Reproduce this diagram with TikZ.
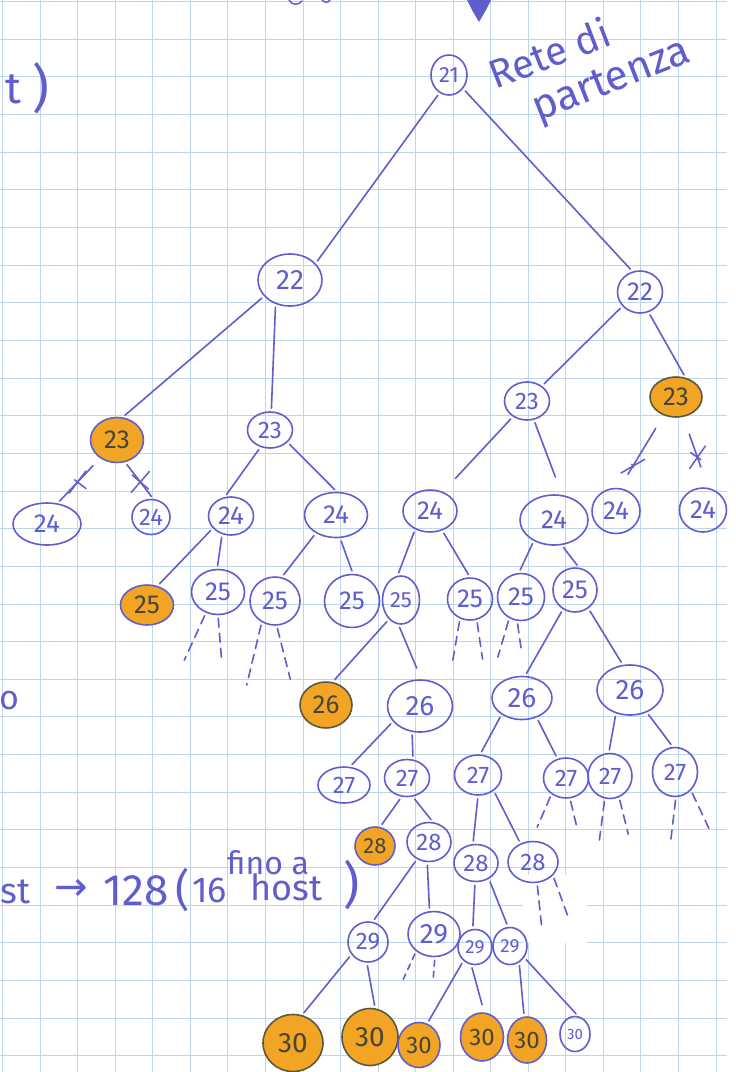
\documentclass[tikz,border=0pt]{standalone}
\usepackage{fontspec}
\setmainfont{Fira Sans}
\newfontfamily\symfont{DejaVu Sans}
\usetikzlibrary{shapes.geometric,shapes.misc}

\definecolor{ink}{RGB}{96,94,204}
\definecolor{gridblue}{RGB}{190,213,235}
\definecolor{marker}{RGB}{242,164,36}
\definecolor{olive}{RGB}{92,88,62}
\definecolor{pencil}{RGB}{72,70,56}

\newcommand{\fs}[1]{\fontsize{#1}{#1}\selectfont}

\tikzset{
  gridline/.style={draw=gridblue, line width=0.8pt},
  net/.style={ellipse, draw=ink, line width=1.6pt, inner sep=0pt, text=ink, font=\fs{26}},
  free/.style={net},
  used/.style={net, fill=marker, text=pencil},
  usedd/.style={used, draw=olive},
  link/.style={draw=ink, line width=1.6pt, line cap=round, shorten <=3pt, shorten >=3pt},
  stub/.style={link, dash pattern=on 9pt off 6pt},
  cut/.style={cross out, draw=ink, line width=1.5pt, minimum size=18pt, inner sep=0pt},
  hand/.style={text=ink, inner sep=0pt},
}

\begin{document}
\begin{tikzpicture}[x=1pt,y=-1pt]
\useasboundingbox (0,0) rectangle (736,1072);
\fill[white] (0,0) rectangle (736,1072);

% squared paper
\foreach \k in {0,...,19} \draw[gridline] ({2.5+37.55*\k},0) -- ({2.5+37.55*\k},1072);
\foreach \k in {0,...,28} \draw[gridline] (0,{1.5+37.65*\k}) -- (727,{1.5+37.65*\k});
\fill[white] (523,875) rectangle (587,943);

% scraps of writing along the edges
\draw[ink, line width=1.5pt, line cap=round] (289,0) .. controls (292,6) and (299,5) .. (302,1);
\draw[ink, line width=1.5pt, line cap=round] (322,0) .. controls (325,3) and (328,3) .. (330,0);
\fill[ink] (467,0) -- (491,0) -- (486,10) -- (479,22) -- (472,10) -- cycle;
\node[hand, font=\fs{44}] (tl) at (13,89) {t};
\node[hand, font=\fs{52}] (tp) at (41,88) {)};
\node[hand, font=\fs{34}] (ol) at (9,701) {o};
\node[hand, anchor=base west, font=\fs{36}] (w1) at (0,903) {st};
\node[hand, font=\symfont\fs{40}] (w2) at (71,890) {→};
\node[hand, anchor=base west, font=\fs{44}] (w3) at (103,905) {128};
\node[hand, font=\fs{44}] (w4) at (183,890) {(};
\node[hand, anchor=base west, font=\fs{36}] (w5) at (192,902) {16};
\node[hand, anchor=base west, font=\fs{36}] (w6) at (250,900) {host};
\node[hand, font=\fs{50}] (w7) at (352,885) {)};
\node[hand, anchor=base west, font=\fs{32}] (w8) at (227,874) {fino a};

% caption of the root
\node[hand, anchor=base west, rotate=21, font=\fs{40}] (capA) at (495,90) {Rete di};
\node[hand, anchor=base west, rotate=21.5, font=\fs{42}] (capB) at (538,122) {partenza};

% ---- tree of subnets ----
\node[free, minimum width=36pt, minimum height=40pt, font=\fs{22}] (n21) at (449,75) {21};

\node[free, minimum width=64pt, minimum height=52pt, font=\fs{28}] (L22) at (290,280) {22};
\node[free, minimum width=45pt, minimum height=42pt] (R22) at (640,292) {22};

\node[used, minimum width=53pt, minimum height=45pt] (O23) at (117,440) {23};
\node[free, minimum width=45pt, minimum height=36pt, font=\fs{24}] (M23) at (270,430) {23};
\node[free, minimum width=45pt, minimum height=38pt, font=\fs{24}] (R23) at (527,401) {23};
\node[usedd, minimum width=52pt, minimum height=40pt] (O13) at (676,397) {23};

\node[free, minimum width=68pt, minimum height=42pt] (a24) at (47,524) {24};
\node[free, minimum width=38pt, minimum height=35pt, font=\fs{24}] (b24) at (151,517) {24};
\node[free, minimum width=45pt, minimum height=38pt] (c24) at (231,516) {24};
\node[free, minimum width=63pt, minimum height=45pt] (d24) at (336,515) {24};
\node[free, minimum width=54pt, minimum height=42pt] (e24) at (430,511) {24};
\node[free, minimum width=68pt, minimum height=50pt] (f24) at (554,520) {24};
\node[free, minimum width=48pt, minimum height=45pt] (g24) at (616,511) {24};
\node[free, minimum width=47pt, minimum height=44pt] (h24) at (703,510) {24};

\node[used, minimum width=53pt, minimum height=40pt] (o25) at (147,605) {25};
\node[free, minimum width=53pt, minimum height=45pt] (a25) at (218,592) {25};
\node[free, minimum width=50pt, minimum height=48pt] (b25) at (275,601) {25};
\node[free, minimum width=55pt, minimum height=53pt] (c25) at (352,601) {25};
\node[free, minimum width=37pt, minimum height=48pt, font=\fs{22}] (d25) at (401,600) {25};
\node[free, minimum width=45pt, minimum height=42pt] (e25) at (470,599) {25};
\node[free, minimum width=47pt, minimum height=47pt] (f25) at (521,597) {25};
\node[free, minimum width=44pt, minimum height=44pt] (g25) at (575,590) {25};

\node[usedd, minimum width=52pt, minimum height=46pt] (o26) at (326,705) {26};
\node[free, minimum width=65pt, minimum height=52pt, font=\fs{28}] (a26) at (420,706) {26};
\node[free, minimum width=60pt, minimum height=43pt, font=\fs{28}] (b26) at (522,698) {26};
\node[free, minimum width=66pt, minimum height=50pt, font=\fs{28}] (c26) at (630,690) {26};

\node[free, minimum width=52pt, minimum height=36pt, font=\fs{24}] (a27) at (344,785) {27};
\node[free, minimum width=45pt, minimum height=37pt, font=\fs{24}] (b27) at (407,778) {27};
\node[free, minimum width=47pt, minimum height=40pt, font=\fs{24}] (c27) at (478,775) {27};
\node[free, minimum width=45pt, minimum height=40pt, font=\fs{24}] (d27) at (566,778) {27};
\node[free, minimum width=44pt, minimum height=45pt, font=\fs{24}] (e27) at (610,776) {27};
\node[free, minimum width=45pt, minimum height=49pt, font=\fs{24}] (f27) at (675,772) {27};

\node[used, minimum width=40pt, minimum height=38pt, font=\fs{22}] (o28) at (375,846) {28};
\node[free, minimum width=44pt, minimum height=39pt, font=\fs{24}] (a28) at (429,842) {28};
\node[free, minimum width=44pt, minimum height=37pt, font=\fs{24}] (b28) at (476,863) {28};
\node[free, minimum width=50pt, minimum height=41pt, font=\fs{24}] (c28) at (533,862) {28};

\node[free, minimum width=40pt, minimum height=40pt, font=\fs{24}] (a29) at (368,942) {29};
\node[free, minimum width=52pt, minimum height=45pt, font=\fs{28}] (b29) at (434,934) {29};
\node[free, minimum width=34pt, minimum height=35pt, font=\fs{19}] (c29) at (475,947) {29};
\node[free, minimum width=34pt, minimum height=37pt, font=\fs{19}] (d29) at (510,946) {29};

\node[usedd, minimum width=60pt, minimum height=57pt, font=\fs{28}] (t30a) at (293,1043) {30};
\node[usedd, minimum width=56pt, minimum height=57pt, font=\fs{28}] (t30b) at (370,1037) {30};
\node[used, minimum width=42pt, minimum height=45pt, font=\fs{24}] (t30c) at (419,1045) {30};
\node[used, minimum width=43pt, minimum height=48pt, font=\fs{24}] (t30d) at (482,1037) {30};
\node[used, minimum width=39pt, minimum height=46pt, font=\fs{24}] (t30e) at (527,1040) {30};
\node[free, minimum width=30pt, minimum height=35pt, font=\fs{15}] (t30f) at (575,1034) {30};

% ---- branches ----
\draw[link] (n21.-118) -- (L22.33);
\draw[link] (n21.-44) -- (R22.110);

\draw[link] (L22.-148) -- (O23.76);
\draw[link] (L22.-121) -- (M23.86);
\draw[link] (R22.-141) -- (R23.45);
\draw[link] (R22.-67) -- (O13.64);

% branches that are not taken
\draw[link, shorten <=10pt] (O23.-133) -- node[cut, pos=0.53, rotate=8] (x1) {} (a24.63);
\draw[link] (O23.-70) -- node[cut, pos=0.54, rotate=4] (x2) {} (b24.83);
\draw[link, shorten <=15pt, shorten >=16pt] (O13.-124) -- node[cut, pos=0.7, rotate=-15] (x3) {} (g24.81);
\draw[link, shorten <=18pt, shorten >=22pt] (O13.-70) -- node[cut, pos=0.57, rotate=10] (x4) {} (h24.77);

\draw[link] (M23.-119) -- (c24.108);
\draw[link] (M23.-35) -- (d24.88);
\draw[link, shorten >=18pt] (R23.-132) -- (e24.56);
\draw[link, shorten >=19pt] (R23.-70) -- (f24.72);

\draw[link] (c24.-146) -- (o25.61);
\draw[link] (c24.-116) -- (a25.92);
\draw[link] (d24.-138) -- (b25.74);
\draw[link] (d24.-80) -- (c25.88);
\draw[link] (e24.-129) -- (d25.98);
\draw[link] (e24.-58) -- (e25.90);
\draw[link] (f24.-134) -- (f25.95);
\draw[link] (f24.-73) -- (g25.80);

\draw[link] (d25.-122) -- (o26.74);
\draw[link, shorten >=12pt] (d25.-96) -- (a26.87);
\draw[link] (g25.-122) -- (b26.82);
\draw[link] (g25.-54) -- (c26.106);

\draw[link] (a26.-150) -- (a27.72);
\draw[link] (a26.-107) -- (b27.72);
\draw[link] (b26.-141) -- (c27.84);
\draw[link] (b26.-53) -- (d27.114);
\draw[link] (c26.-121) -- (e27.93);
\draw[link] (c26.-53) -- (f27.95);

\draw[link] (b27.-106) -- (o28.75);
\draw[link] (b27.-73) -- (a28.79);
\draw[link] (c27.-90) -- (b28.99);
\draw[link] (c27.-45) -- (c28.124);

\draw[link] (a28.-125) -- (a29.77);
\draw[link] (a28.-95) -- (b29.101);
\draw[link] (b28.-93) -- (c29.97);
\draw[link] (b28.-51) -- (d29.96);

\draw[link] (a29.-143) -- (t30a.72);
\draw[link] (a29.-93) -- (t30b.80);
\draw[link] (c29.-130) -- (t30c.69);
\draw[link, shorten >=8pt] (c29.-102) -- (t30d.85);
\draw[link] (d29.-61) -- (t30e.97);
\draw[link] (d29.-39) -- (t30f.80);

% ---- subtrees left out ----
\coordinate (a25l) at (183,663); \coordinate (a25r) at (222,665);
\coordinate (b25l) at (246,688); \coordinate (b25r) at (291,682);
\coordinate (e25l) at (452,665); \coordinate (e25r) at (483,662);
\coordinate (f25l) at (497,660); \coordinate (f25r) at (522,655);
\coordinate (d27l) at (536,830); \coordinate (d27r) at (578,832);
\coordinate (e27l) at (599,843); \coordinate (e27r) at (629,837);
\coordinate (f27l) at (670,847); \coordinate (f27r) at (712,835);
\coordinate (c28l) at (542,930); \coordinate (c28r) at (570,922);
\coordinate (b29l) at (402,982); \coordinate (b29r) at (433,982);

\draw[stub] (a25.-120) -- (a25l);  \draw[stub] (a25.-90) -- (a25r);
\draw[stub] (b25.-122) -- (b25l);  \draw[stub] (b25.-86) -- (b25r);
\draw[stub] (e25.-117) -- (e25l);  \draw[stub] (e25.-72) -- (e25r);
\draw[stub] (f25.-119) -- (f25l);  \draw[stub] (f25.-99) -- (f25r);
\draw[stub] (d27.-132) -- (d27l);  \draw[stub] (d27.-79) -- (d27r);
\draw[stub] (e27.-103) -- (e27l);  \draw[stub] (e27.-67) -- (e27r);
\draw[stub] (f27.-88) -- (f27l);   \draw[stub] (f27.-49) -- (f27r);
\draw[stub] (c28.-79) -- (c28l);   \draw[stub] (c28.-34) -- (c28r);
\draw[stub, dash pattern=on 6pt off 5pt] (b29.-136) -- (b29l);
\draw[stub, dash pattern=on 6pt off 5pt] (b29.-88) -- (b29r);
\end{tikzpicture}
\end{document}
